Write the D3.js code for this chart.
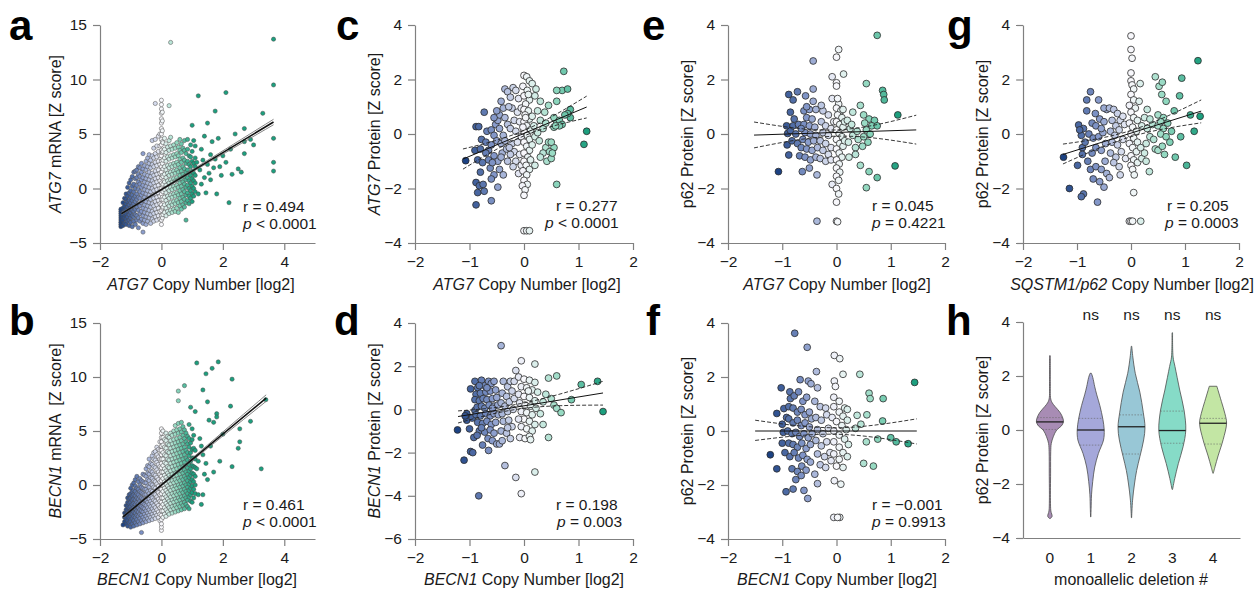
<!DOCTYPE html>
<html>
<head>
<meta charset="utf-8">
<script src="https://cdn.jsdelivr.net/npm/d3@7"></script>
<style>
  body { margin: 0; background: #fff; }
  text { font-family: "Liberation Sans", Arial, sans-serif; white-space: pre; }
</style>
</head>
<body>
<svg id="fig" width="1256" height="590"></svg>
<script>
// ---- data ----
// panel a: ATG7 mRNA vs ATG7 copy number, grouped by copy-number column [x, [y...]]
var atg7MrnaCols = [
  [-1.32, [-3.5,-3.3,-3.1,-2.9,-2.7,-2.5,-2.3,-2.1,-1.9]],
  [-1.25, [-3.4,-2.9,-2.6,-2.2,-1.8,-1.3]],
  [-1.2, [-3.2,-2.7,-2.4,-2.0,-1.6,-0.9]],
  [-1.15, [-3.3,-2.8,-2.3,-1.9,-1.4,-1.0,-0.5]],
  [-1.1, [-3.0,-2.6,-2.1,-1.7,-1.2,-0.7,0.1]],
  [-1.05, [-3.4,-2.9,-2.4,-2.0,-1.5,-1.1,-0.4,0.5]],
  [-1.0, [-3.1,-2.7,-2.2,-1.8,-1.3,-0.8,-0.2,0.8]],
  [-0.95, [-3.5,-2.5,-2.0,-1.6,-1.1,-0.6,0.2,1.1]],
  [-0.9, [-3.0,-2.6,-2.1,-1.4,-0.9,-0.3,0.4,1.5]],
  [-0.85, [-3.3,-2.4,-1.9,-1.2,-0.7,0.0,0.9,1.6]],
  [-0.8, [-2.9,-2.5,-1.7,-1.0,-0.5,0.3,1.0,1.7]],
  [-0.75, [-3.6,-2.7,-2.0,-1.4,-0.8,-0.1,0.6,1.3,2.0]],
  [-0.7, [-3.0,-2.3,-1.6,-0.9,-0.3,0.4,1.1,1.9]],
  [-0.65, [-2.8,-2.1,-1.3,-0.6,0.1,0.8,1.5,2.3]],
  [-0.6, [-4.0,-3.2,-2.5,-1.8,-1.1,-0.4,0.3,1.0,1.8,3.2]],
  [-0.55, [-2.9,-2.2,-1.5,-0.8,-0.1,0.6,1.3,2.1]],
  [-0.5, [-3.3,-2.6,-1.9,-1.2,-0.5,0.2,0.9,1.7,2.5]],
  [-0.45, [-3.0,-2.3,-1.6,-0.9,-0.2,0.5,1.2,2.0,2.8]],
  [-0.4, [-2.7,-2.0,-1.3,-0.6,0.1,0.8,1.5,2.3,3.1]],
  [-0.35, [-3.2,-2.4,-1.7,-1.0,-0.3,0.4,1.1,1.9,2.6]],
  [-0.3, [-2.8,-2.1,-1.4,-0.7,0.0,0.7,1.4,2.2,3.0,4.4]],
  [-0.25, [-3.0,-2.3,-1.6,-0.9,-0.2,0.5,1.2,2.0,2.8,3.7]],
  [-0.2, [-2.6,-1.9,-1.2,-0.5,0.2,0.9,1.6,2.4,3.2,4.5,7.8]],
  [-0.15, [-2.9,-2.2,-1.5,-0.8,-0.1,0.6,1.3,2.1,2.9,3.9]],
  [-0.1, [-2.5,-1.8,-1.1,-0.4,0.3,1.0,1.7,2.5,3.4,4.8]],
  [-0.05, [-2.8,-2.1,-1.4,-0.7,0.0,0.7,1.4,2.2,3.0,3.9,5.0]],
  [0.0, [-3.3,-2.9,-2.5,-2.0,-1.5,-1.0,-0.5,0.0,0.5,1.0,1.5,2.0,2.5,3.0,3.5,4.0,4.5,5.0,5.5,6.0,6.4,6.9,7.3,7.7,8.1]],
  [0.03, [-2.7,-1.8,-0.8,0.3,1.2,2.3,3.3,4.3,5.3,6.2,7.0]],
  [0.05, [-2.4,-1.7,-1.0,-0.3,0.4,1.1,1.8,2.6,3.4,4.2]],
  [0.1, [-2.2,-1.5,-0.8,-0.1,0.6,1.3,2.0,2.8,3.6,4.6]],
  [0.15, [-2.5,-1.8,-1.1,-0.4,0.3,1.0,1.7,2.5,3.3,4.1]],
  [0.2, [-2.1,-1.4,-0.7,0.0,0.7,1.4,2.1,2.9,3.8]],
  [0.25, [-2.3,-1.6,-0.9,-0.2,0.5,1.2,1.9,2.7,3.5,4.4,7.6]],
  [0.3, [-2.0,-1.3,-0.6,0.1,0.8,1.5,2.2,3.0,3.9,4.7,13.4]],
  [0.35, [-2.2,-1.5,-0.8,-0.1,0.6,1.3,2.0,2.8,3.6]],
  [0.4, [-1.9,-1.2,-0.5,0.2,0.9,1.6,2.3,3.1,4.0]],
  [0.45, [-2.1,-1.4,-0.7,0.0,0.7,1.4,2.1,2.9,3.7]],
  [0.5, [-1.8,-1.1,-0.4,0.3,1.0,1.7,2.4,3.2,4.2]],
  [0.55, [-2.2,-1.3,-0.6,0.1,0.8,1.5,2.2,3.0,3.8]],
  [0.6, [-1.6,-0.9,-0.2,0.5,1.2,1.9,2.7,3.5,4.5]],
  [0.65, [-1.9,-1.2,-0.5,0.2,0.9,1.6,2.4,3.3,4.1]],
  [0.7, [-1.5,-0.8,-0.1,0.6,1.3,2.0,2.8,3.7]],
  [0.75, [-1.7,-1.0,-0.3,0.4,1.1,1.8,2.6,3.5,4.4]],
  [0.8, [-2.9,-1.3,-0.6,0.1,0.8,1.5,2.3,3.2]],
  [0.85, [-1.1,-0.4,0.3,1.0,1.7,2.5,3.6,4.5]],
  [0.9, [-1.4,-0.7,0.0,0.7,1.4,2.2,3.0]],
  [0.95, [-0.9,-0.2,0.5,1.2,2.0,2.9,4.0]],
  [1.0, [-1.2,-0.5,0.2,0.9,1.6,2.5,3.4,5.8]],
  [1.05, [-0.7,0.0,0.7,1.4,2.3,4.4]],
  [1.1, [-0.3,0.5,1.2,2.0,2.8,3.9]]
];
var atg7MrnaSparse = [
  [1.2,8.5],[1.2,-0.5],[1.15,2.4],[1.25,1.7],[1.3,3.6],[1.3,0.4],[1.35,2.6],[1.4,1.0],[1.4,4.8],
  [1.45,-0.4],[1.5,6.0],[1.5,2.2],[1.55,1.4],[1.6,3.1],[1.6,0.8],[1.65,4.3],[1.7,1.9],[1.75,7.1],
  [1.75,2.7],[1.8,-0.5],[1.85,4.6],[1.9,2.0],[1.95,1.2],[2.0,3.0],[2.1,8.8],[2.1,2.4],[2.2,-1.3],
  [2.25,3.6],[2.3,1.3],[2.4,5.0],[2.5,1.8],[2.6,1.5],[2.7,5.5],[2.7,4.3],[2.7,3.2],[2.9,4.5],
  [3.0,4.0],[3.3,6.9],[3.65,13.7],[3.65,9.5],[3.65,4.6],[3.65,2.4],[3.65,1.6]
];

// panel b: BECN1 mRNA vs BECN1 copy number
var becn1MrnaCols = [
  [-1.2, [-3.4,-3.0,-2.6]],
  [-1.15, [-3.6,-3.1,-2.7,-2.3,-1.9]],
  [-1.1, [-3.8,-3.3,-2.8,-2.4,-2.0,-1.6,-1.2]],
  [-1.05, [-3.5,-3.0,-2.5,-2.1,-1.7,-1.3,-0.9]],
  [-1.0, [-3.9,-3.4,-2.9,-2.4,-2.0,-1.6,-1.2,-0.8,-0.3]],
  [-0.95, [-3.6,-3.1,-2.7,-2.2,-1.8,-1.4,-1.0,-0.6,0.0]],
  [-0.9, [-3.8,-3.3,-2.9,-2.5,-2.1,-1.7,-1.3,-0.9,-0.5,0.2]],
  [-0.85, [-3.5,-3.0,-2.6,-2.2,-1.8,-1.4,-1.0,-0.6,-0.1,0.5]],
  [-0.8, [-3.7,-3.2,-2.8,-2.4,-2.0,-1.6,-1.2,-0.8,-0.3,0.8]],
  [-0.75, [-3.4,-2.9,-2.5,-2.1,-1.7,-1.3,-0.9,-0.4,0.3]],
  [-0.7, [-3.6,-3.1,-2.7,-2.3,-1.9,-1.5,-1.1,-0.6,0.0,0.6]],
  [-0.65, [-4.4,-3.3,-2.8,-2.4,-2.0,-1.6,-1.2,-0.7,-0.2,0.4]],
  [-0.6, [-3.5,-3.0,-2.5,-2.1,-1.7,-1.3,-0.8,-0.3,0.3,1.0]],
  [-0.55, [-3.2,-2.7,-2.2,-1.8,-1.4,-0.9,-0.4,0.2,0.9]],
  [-0.5, [-3.4,-2.9,-2.4,-1.9,-1.4,-0.9,-0.4,0.2,0.8,1.5]],
  [-0.45, [-3.1,-2.6,-2.1,-1.6,-1.1,-0.6,-0.1,0.5,1.1,1.8]],
  [-0.4, [-3.3,-2.8,-2.3,-1.8,-1.3,-0.8,-0.2,0.4,1.0,1.7,2.4]],
  [-0.35, [-3.0,-2.5,-2.0,-1.5,-1.0,-0.5,0.1,0.7,1.3,2.0]],
  [-0.3, [-3.2,-2.7,-2.2,-1.7,-1.2,-0.6,0.0,0.6,1.2,1.9,2.7]],
  [-0.25, [-2.9,-2.4,-1.9,-1.4,-0.8,-0.2,0.4,1.0,1.7,2.4,3.0]],
  [-0.2, [-3.1,-2.6,-2.1,-1.5,-0.9,-0.3,0.3,0.9,1.6,2.3,3.1]],
  [-0.15, [-2.8,-2.3,-1.7,-1.1,-0.5,0.1,0.7,1.4,2.1,2.8,3.5]],
  [-0.1, [-3.0,-2.5,-1.9,-1.3,-0.7,-0.1,0.5,1.2,1.9,2.6,3.3]],
  [-0.05, [-3.3,-2.7,-2.1,-1.5,-0.9,-0.3,0.3,1.0,1.7,2.4,3.2,4.0]],
  [0.0, [-4.2,-3.9,-3.6,-3.2,-2.8,-2.4,-2.0,-1.6,-1.2,-0.8,-0.4,0.0,0.4,0.8,1.2,1.6,2.0,2.4,2.8,3.2,3.6,4.0,4.4,4.8,5.2]],
  [0.05, [-3.0,-2.4,-1.8,-1.2,-0.6,0.0,0.6,1.2,1.8,2.4,3.0,3.7,4.4,5.0]],
  [0.1, [-2.7,-2.1,-1.5,-0.9,-0.3,0.3,0.9,1.5,2.1,2.8,3.5,4.2]],
  [0.15, [-2.9,-2.3,-1.7,-1.1,-0.5,0.1,0.7,1.3,2.0,2.7,3.4,4.1,4.8]],
  [0.2, [-2.5,-1.9,-1.3,-0.7,-0.1,0.5,1.1,1.7,2.4,3.1,3.8,4.5]],
  [0.25, [-2.7,-2.1,-1.5,-0.9,-0.3,0.3,0.9,1.6,2.3,3.0,3.7,4.4]],
  [0.3, [-2.3,-1.7,-1.1,-0.5,0.1,0.7,1.3,2.0,2.7,3.4,4.1,4.8]],
  [0.35, [-2.6,-2.0,-1.4,-0.8,-0.2,0.4,1.0,1.7,2.4,3.1,3.8,4.6]],
  [0.4, [-2.2,-1.6,-1.0,-0.4,0.2,0.8,1.4,2.1,2.8,3.5,4.2,5.0]],
  [0.45, [-2.5,-1.9,-1.3,-0.7,-0.1,0.5,1.1,1.8,2.5,3.2,3.9,4.7,5.5]],
  [0.5, [-2.1,-1.5,-0.9,-0.3,0.3,0.9,1.5,2.2,2.9,3.6,4.3,5.1]],
  [0.55, [-2.4,-1.8,-1.2,-0.6,0.0,0.6,1.2,1.9,2.6,3.3,4.0,4.8,5.7,7.8,8.7]],
  [0.6, [-2.0,-1.4,-0.8,-0.2,0.4,1.0,1.6,2.3,3.0,3.7,4.4,5.2]],
  [0.65, [-2.3,-1.7,-1.1,-0.5,0.1,0.7,1.3,2.0,2.7,3.4,4.1,4.9,5.8]],
  [0.7, [-1.9,-1.3,-0.7,-0.1,0.5,1.1,1.7,2.4,3.1,3.8,4.6,5.4]],
  [0.75, [-2.2,-1.6,-1.0,-0.4,0.2,0.8,1.4,2.1,2.8,3.5,4.3,5.1,9.2]],
  [0.8, [-1.8,-1.2,-0.6,0.0,0.6,1.2,1.8,2.5,3.2,4.0,4.8]],
  [0.85, [-2.0,-1.4,-0.8,-0.2,0.4,1.0,1.6,2.3,3.0,3.8,4.5]],
  [0.9, [-2.2,-1.1,-0.5,0.1,0.7,1.3,1.9,2.7,3.5,4.3,5.6]],
  [0.95, [-1.5,-0.9,-0.3,0.3,0.9,1.5,2.2,3.0,3.9,7.2]],
  [1.0, [-1.6,-0.7,-0.1,0.5,1.1,1.8,2.5,3.3,4.2,5.2]],
  [1.05, [-1.2,-0.4,0.3,1.0,1.7,2.5,3.4,4.6]],
  [1.1, [-0.8,0.0,0.8,1.6,2.4,3.2,6.8]]
];
var becn1MrnaSparse = [
  [1.15,11.3],[1.15,1.5],[1.2,-0.9],[1.2,2.2],[1.25,4.3],[1.3,-1.8],[1.3,3.6],[1.35,-0.9],[1.35,2.8],
  [1.35,8.8],[1.4,1.0],[1.45,10.3],[1.45,2.0],[1.5,7.7],[1.5,0.5],[1.55,6.0],[1.6,3.6],[1.65,10.8],
  [1.7,1.2],[1.7,5.8],[1.8,6.6],[1.8,6.3],[1.85,11.4],[1.9,2.2],[2.0,4.7],[2.25,7.3],[2.3,9.8],
  [2.3,1.7],[2.5,3.4],[2.55,5.2],[2.55,4.0],[2.9,5.9],[3.25,1.5],[3.4,7.9],[-1.25,-3.7]
];

// panel c: ATG7 protein vs ATG7 copy number
var atg7Protein = [
  [-1.07,-0.98],[-0.88,0.27],[-0.83,0.27],[-0.73,0.8],[-0.85,-0.95],[-0.8,-1.4],[-0.88,-1.78],[-0.82,-1.9],
  [-0.75,-1.85],[-0.85,-2.15],[-0.73,-2.1],[-0.88,-2.6],[-0.78,-0.2],[-0.9,-0.6],[-0.8,-0.55],[-0.76,-1.05],
  [-0.6,-2.45],[-0.7,-0.3],[-0.65,-0.6],[-0.68,0.1],[-0.6,0.15],[-0.55,-0.05],[-0.52,0.35],[-0.48,0.5],
  [-0.45,0.7],[-0.5,0.85],[-0.55,0.6],[-0.45,0.2],[-0.5,-0.25],[-0.42,-0.35],[-0.6,-0.4],[-0.55,-0.8],
  [-0.48,-1.0],[-0.62,-1.25],[-0.45,-1.3],[-0.55,-1.5],[-0.38,-1.5],[-0.6,-1.65],[-0.48,-1.95],[-0.35,1.65],
  [-0.3,1.55],[-0.42,1.2],[-0.38,0.95],[-0.35,0.6],[-0.3,0.35],[-0.38,-0.05],[-0.4,-0.7],[-0.32,-0.55],
  [-0.3,-1.0],[-0.35,-0.25],[-0.65,-0.95],[-0.7,-0.7],[-0.58,-1.05],[-0.42,-0.85],
  [-0.2,1.7],[-0.15,1.6],[-0.25,1.35],[-0.1,1.3],[-0.22,0.95],[-0.12,0.8],[-0.18,0.5],[-0.08,0.45],
  [-0.25,0.2],[-0.15,0.1],[-0.05,-0.1],[-0.22,-0.35],[-0.12,-0.3],[-0.18,-0.65],[-0.08,-0.75],[-0.25,-0.75],
  [-0.15,-1.0],[-0.05,-1.15],[-0.2,-1.2],[-0.1,-1.45],[-0.28,1.0],[-0.05,0.95],[-0.27,-0.5],
  [0.0,2.15],[0.05,2.1],[0.1,1.95],[-0.02,1.75],[0.06,1.6],[0.0,1.4],[0.1,1.25],[0.03,1.1],[0.0,0.9],
  [0.08,0.85],[0.02,0.7],[0.1,0.55],[0.0,0.45],[0.05,0.3],[0.12,0.15],[0.0,0.1],[0.06,-0.05],[0.1,-0.2],
  [0.0,-0.3],[0.05,-0.45],[0.1,-0.6],[0.0,-0.7],[0.07,-0.85],[0.0,-1.0],[0.04,-1.15],[0.1,-1.3],[-0.02,-1.35],
  [0.05,-1.5],[0.0,-1.7],[0.06,-1.85],[-0.03,-1.9],[0.02,-2.05],[0.0,-2.25],[0.0,-3.55],[0.05,-3.55],[0.1,-3.55],
  [0.03,0.6],[0.08,1.45],[-0.02,0.25],[0.12,-0.95],
  [0.15,1.85],[0.22,1.65],[0.2,1.4],[0.3,1.2],[0.25,0.85],[0.15,0.65],[0.3,0.5],[0.18,0.3],[0.35,0.2],
  [0.2,-0.1],[0.28,-0.25],[0.15,-0.4],[0.4,-0.5],[0.35,-0.7],[0.45,-0.3],[0.42,-1.0],[0.2,-1.15],[0.3,-0.85],
  [0.45,1.05],[0.38,0.8],[0.25,0.05],[0.4,0.4],
  [0.73,2.3],[0.7,1.6],[0.8,1.65],[0.6,1.6],[0.6,1.2],[0.55,0.6],[0.6,0.4],[0.65,0.5],[0.55,0.25],[0.7,0.35],
  [0.85,0.9],[0.85,0.6],[0.8,0.75],[0.6,-1.85],[0.55,-0.5],[0.5,-0.3],[0.65,0.3],[0.5,-0.9],[0.47,-0.65],
  [0.52,-0.7],[0.58,0.3],[0.75,0.7],[1.15,0.1],[1.1,-0.38]
];

// panel d: BECN1 protein vs BECN1 copy number
var becn1Protein = [
  [-1.22,-0.95],[-1.1,-2.35],[-0.98,-1.95],[-0.94,-2.0],[-0.83,-4.0],[-1.05,-0.2],[-1.05,-0.5],[-0.98,0.95],
  [-1.0,-0.9],[-0.95,-0.4],[-0.9,-0.05],[-0.92,-1.3],[-1.08,-0.3],
  [-0.9,1.3],[-0.85,1.0],[-0.78,1.35],[-0.72,1.1],[-0.65,1.3],[-0.6,1.2],[-0.55,1.3],[-0.88,0.7],[-0.8,0.75],
  [-0.7,0.8],[-0.62,0.85],[-0.52,0.9],[-0.9,0.45],[-0.82,0.4],[-0.75,0.5],[-0.68,0.45],[-0.58,0.5],[-0.5,0.55],
  [-0.86,0.1],[-0.78,0.15],[-0.72,0.05],[-0.64,0.2],[-0.55,0.15],[-0.48,0.2],[-0.88,-0.25],[-0.8,-0.3],
  [-0.7,-0.2],[-0.62,-0.3],[-0.55,-0.2],[-0.47,-0.25],[-0.85,-0.6],[-0.76,-0.65],[-0.68,-0.55],[-0.6,-0.7],
  [-0.52,-0.6],[-0.82,-1.0],[-0.72,-1.05],[-0.62,-0.95],[-0.55,-1.1],[-0.86,-1.2],[-0.66,-1.35],[-0.58,-1.45],
  [-0.76,-1.65],[-0.65,-1.9],[-0.5,-1.6],[-0.45,-1.6],[-0.82,1.1],[-0.68,1.0],[-0.58,0.05],[-0.78,-0.85],
  [-0.42,2.95],[-0.38,1.3],[-0.3,1.05],[-0.25,1.3],[-0.4,0.75],[-0.32,0.6],[-0.22,0.85],[-0.42,0.3],
  [-0.35,0.15],[-0.27,0.35],[-0.18,0.5],[-0.4,-0.2],[-0.3,-0.1],[-0.2,0.0],[-0.38,-0.55],[-0.28,-0.5],
  [-0.22,-0.8],[-0.42,-1.0],[-0.32,-1.1],[-0.25,-1.35],[-0.4,-1.45],[-0.35,-2.6],[-0.15,1.8],[-0.18,1.3],[-0.3,-0.85],
  [-0.05,2.25],[0.2,2.1],[-0.1,1.5],[0.0,1.4],[0.1,1.35],[0.2,1.25],[-0.05,1.05],[0.05,1.0],[0.15,0.9],
  [0.25,0.8],[-0.1,0.7],[0.0,0.6],[0.1,0.55],[0.2,0.4],[-0.08,0.3],[0.02,0.2],[0.12,0.15],[0.22,0.05],
  [-0.05,-0.1],[0.05,-0.15],[0.15,-0.25],[0.0,-0.45],[0.1,-0.55],[0.2,-0.7],[-0.05,-0.8],[0.05,-0.9],
  [0.15,-1.0],[-0.08,-1.3],[0.02,-1.35],[0.1,-1.25],[0.12,-1.4],[-0.15,-3.15],[-0.05,-3.9],[0.2,-2.9],
  [0.08,0.85],[-0.1,-0.45],
  [0.45,1.45],[0.6,1.55],[0.4,0.7],[0.35,-0.7],[0.55,0.2],[0.6,0.05],[0.68,-0.15],[0.45,-1.3],[0.3,-0.2],
  [0.5,0.5],[0.35,0.35],[1.05,1.15],[1.35,1.3],[0.87,0.45],[1.45,-0.1]
];

// panel e: p62 protein vs ATG7 copy number
var p62VsAtg7 = [
  [-1.07,-1.38],[-0.88,-0.77],[-0.91,-0.4],[-0.9,0.02],[-0.85,0.13],[-0.92,0.3],[-0.88,1.45],[-0.72,1.55],
  [-0.8,1.25],[-0.85,0.8],[-0.8,0.3],[-0.75,0.0],[-0.7,0.35],[-0.82,-0.25],[-0.72,-0.35],[-0.65,-0.5],
  [-0.68,-0.8],[-0.78,0.55],
  [-0.43,2.68],[-0.43,1.65],[-0.57,1.4],[-0.43,1.2],[-0.63,-1.38],[-0.5,-1.25],[-0.36,-1.5],[-0.36,-3.2],
  [-0.6,0.85],[-0.5,0.9],[-0.38,0.9],[-0.55,0.6],[-0.45,0.55],[-0.6,0.35],[-0.5,0.3],[-0.4,0.25],[-0.58,0.05],
  [-0.48,0.0],[-0.38,-0.05],[-0.62,-0.2],[-0.52,-0.3],[-0.42,-0.25],[-0.55,-0.55],[-0.45,-0.6],[-0.35,-0.5],
  [-0.58,-0.85],[-0.48,-0.95],[-0.38,-0.85],[-0.55,1.0],[-0.65,0.2],
  [-0.08,2.1],[-0.08,1.3],[-0.25,0.85],[-0.15,0.7],[-0.28,0.45],[-0.2,0.3],[-0.1,0.2],[-0.25,0.05],
  [-0.15,-0.05],[-0.3,-0.25],[-0.2,-0.35],[-0.1,-0.5],[-0.25,-0.6],[-0.15,-0.75],[-0.3,-0.9],[-0.2,-1.0],
  [-0.08,-1.85],[-0.1,-0.95],[-0.05,0.45],[-0.28,1.05],
  [0.04,3.1],[0.0,2.82],[0.13,2.2],[0.0,1.88],[0.0,1.76],[0.04,1.1],[0.0,0.95],[0.08,0.85],[0.02,0.7],
  [0.1,0.6],[0.0,0.45],[0.06,0.35],[0.12,0.25],[0.0,0.15],[0.05,0.0],[0.1,-0.1],[0.0,-0.2],[0.06,-0.35],
  [0.12,-0.45],[0.0,-0.55],[0.05,-0.7],[0.1,-0.85],[0.0,-0.95],[0.05,-1.1],[0.0,-1.25],[0.06,-1.4],
  [0.0,-1.55],[0.04,-1.7],[0.0,-2.0],[0.04,-2.2],[0.0,-2.5],[0.0,-3.2],[0.02,-3.22],[0.15,0.45],[0.12,0.9],
  [0.15,-0.25],[0.02,1.3],
  [0.23,-0.85],[0.2,0.5],[0.25,0.2],[0.3,-0.05],[0.22,-0.3],[0.35,-0.5],[0.3,0.8],[0.28,0.35],[0.4,-0.2],
  [0.38,0.1],[0.44,-1.15],[0.35,-0.75],
  [0.75,3.62],[0.55,1.85],[0.85,1.6],[0.87,1.45],[0.88,1.25],[0.44,1.05],[0.5,0.7],[0.6,0.55],[0.7,0.5],
  [0.52,0.4],[0.65,0.3],[0.75,0.3],[0.55,0.15],[0.62,0.0],[0.5,-0.1],[0.58,-0.3],[0.55,-1.97],[0.75,-1.6],
  [0.6,-1.38],[0.48,-0.45],[1.08,-1.17],[1.13,0.7]
];

// panel f: p62 protein vs BECN1 copy number
var p62VsBecn1 = [
  [-1.22,-0.88],[-1.1,-1.4],[-1.1,0.65],[-1.02,1.6],[-0.97,0.83],[-0.93,-2.25],[-1.0,0.25],[-0.98,-0.05],
  [-1.0,-0.45],[-0.95,-0.8],[-0.92,0.5],
  [-0.77,3.62],[-0.54,3.1],[-0.67,1.9],[-0.52,1.85],[-0.47,1.75],[-0.86,1.45],[-0.8,-2.15],[-0.6,-2.2],
  [-0.53,-2.5],[-0.85,1.2],[-0.78,1.3],[-0.7,1.45],[-0.62,1.1],[-0.55,1.25],[-0.88,0.9],[-0.8,0.85],
  [-0.72,0.7],[-0.65,0.8],[-0.58,0.6],[-0.5,0.7],[-0.88,0.45],[-0.8,0.3],[-0.72,0.4],[-0.65,0.2],[-0.58,0.3],
  [-0.5,0.15],[-0.9,0.0],[-0.82,-0.1],[-0.75,-0.05],[-0.68,-0.2],[-0.6,-0.1],[-0.52,-0.25],[-0.88,-0.45],
  [-0.8,-0.5],[-0.72,-0.6],[-0.64,-0.45],[-0.56,-0.65],[-0.48,-0.5],[-0.86,-0.95],[-0.78,-0.8],[-0.7,-1.0],
  [-0.62,-0.9],[-0.54,-1.05],[-0.82,-1.4],[-0.72,-1.5],[-0.64,-1.3],[-0.56,-1.45],[-0.75,-1.8],[-0.65,-1.65],
  [-0.48,-1.15],[-0.45,-0.1],[-0.46,0.45],
  [-0.37,2.2],[-0.35,1.6],[-0.4,1.1],[-0.3,0.9],[-0.2,0.85],[-0.38,0.5],[-0.28,0.4],[-0.18,0.6],[-0.35,0.05],
  [-0.25,-0.1],[-0.15,0.1],[-0.38,-0.35],[-0.28,-0.55],[-0.18,-0.4],[-0.35,-0.85],[-0.22,-0.95],[-0.12,-0.8],
  [-0.3,-1.25],[-0.4,-1.6],[-0.2,-1.35],[-0.1,-1.1],[-0.35,-1.95],
  [-0.04,2.8],[0.06,2.68],[0.12,2.1],[-0.04,1.85],[-0.02,1.65],[-0.05,1.25],[0.05,1.1],[0.15,0.85],
  [-0.05,0.9],[0.05,0.7],[0.12,0.55],[0.2,0.4],[-0.08,0.5],[0.0,0.35],[0.1,0.2],[0.18,0.05],[-0.05,0.0],
  [0.05,-0.15],[0.15,-0.3],[0.22,-0.5],[-0.05,-0.4],[0.05,-0.6],[0.12,-0.8],[0.2,-0.95],[-0.05,-0.85],
  [0.05,-1.05],[0.12,-1.35],[-0.04,-1.84],[0.08,-1.97],[-0.05,-3.2],[0.06,-3.2],[0.02,-3.2],[0.2,0.8],[0.0,-1.3],
  [0.43,2.1],[0.6,1.4],[0.62,1.2],[0.86,1.2],[0.38,0.58],[0.56,0.6],[0.85,0.37],[0.5,-1.2],[0.68,-1.3],
  [0.55,-0.4],[0.76,-0.3],[0.45,0.25],[0.35,0.1],[1.44,1.8],[1.0,-0.25],[1.1,-0.4],[1.32,-0.47]
];

// panel g: p62 protein vs SQSTM1/p62 copy number
var p62VsSqstm1 = [
  [-1.25,-0.85],[-1.14,-2.0],[-0.99,-1.15],[-0.97,0.33],[-0.88,0.2],[-0.82,0.85],[-0.88,-2.2],[-0.92,-2.3],
  [-0.92,-0.05],[-0.9,-0.5],[-0.85,-0.3],[-0.9,-0.75],[-0.95,0.15],
  [-0.75,1.55],[-0.82,1.25],[-0.6,1.25],[-0.62,-2.5],[-0.5,-1.95],[-0.72,0.4],[-0.65,0.3],[-0.58,0.55],
  [-0.5,0.45],[-0.78,0.0],[-0.7,-0.15],[-0.6,-0.1],[-0.52,0.05],[-0.8,-1.0],[-0.72,-0.7],[-0.65,-0.5],
  [-0.55,-0.6],[-0.75,-1.3],[-0.65,-1.2],[-0.55,-1.3],[-0.7,-1.65],[-0.58,-1.75],[-0.47,-0.35],[-0.45,0.9],
  [-0.5,0.95],[-0.48,-1.0],[-0.66,0.75],[-0.45,-1.45],[-0.55,0.2],
  [-0.4,0.95],[-0.32,0.9],[-0.25,0.75],[-0.35,0.5],[-0.28,0.3],[-0.2,0.5],[-0.38,0.1],[-0.3,-0.05],
  [-0.22,0.15],[-0.12,0.35],[-0.35,-0.3],[-0.25,-0.4],[-0.15,-0.2],[-0.38,-0.7],[-0.28,-0.85],[-0.18,-0.65],
  [-0.32,-1.05],[-0.22,-1.2],[-0.4,-1.6],[-0.1,-0.9],[-0.2,-1.5],[-0.15,0.65],
  [0.0,3.6],[0.0,3.1],[0.02,2.78],[0.0,2.24],[0.0,1.95],[0.02,1.8],[0.05,1.65],[0.17,1.85],[0.0,1.45],
  [0.05,1.25],[-0.03,1.05],[0.08,0.95],[0.0,0.8],[0.05,0.6],[0.12,0.5],[-0.03,0.4],[0.03,0.25],[0.1,0.1],
  [0.0,0.0],[0.05,-0.15],[0.12,-0.3],[-0.03,-0.35],[0.03,-0.5],[0.1,-0.65],[0.0,-0.8],[0.05,-0.95],
  [0.12,-1.05],[0.0,-1.15],[0.03,-1.3],[0.06,-1.5],[0.05,-2.15],[-0.03,-3.2],[0.0,-3.2],[0.03,-3.2],[0.18,-3.2],
  [0.2,0.3],[0.18,-0.5],[0.15,1.2],[0.2,-0.9],
  [0.25,0.6],[0.3,0.2],[0.35,-0.1],[0.28,-0.35],[0.4,0.35],[0.35,0.55],[0.25,-0.7],[0.34,-1.38],[0.42,-0.2],
  [0.3,0.9],[0.45,-0.55],[0.28,-1.0],
  [1.24,2.69],[0.45,2.1],[0.52,1.75],[0.58,1.9],[0.94,2.05],[0.9,1.4],[0.57,1.45],[0.65,1.2],[1.1,0.7],
  [0.82,-0.85],[0.5,0.7],[0.6,0.6],[0.5,0.3],[0.6,0.2],[0.68,0.4],[0.55,0.0],[0.65,-0.1],[0.72,-0.3],
  [0.5,-0.6],[0.62,-0.75],[0.8,0.85],[0.75,0.1],[0.92,-0.1],[0.58,-0.45],[0.55,0.45],
  [1.28,0.65],[1.17,0.1],[1.03,-1.15]
];

// regression lines and 95% bands, [x, y] in data units
var fitA = [[-1.3,-2.3],[3.65,6.1]], upA = [[-1.3,-2.2],[0,-0.03],[3.65,6.35]], loA = [[-1.3,-2.4],[0,-0.15],[3.65,5.85]];
var fitB = [[-1.25,-2.96],[3.41,8.05]], upB = [[-1.25,-2.85],[0,0.06],[3.41,8.35]], loB = [[-1.25,-3.07],[0,-0.06],[3.41,7.75]];
var fitC = [[-1.12,-0.92],[1.15,0.99]], upC = [[-1.12,-0.55],[0,0.13],[1.15,1.39]], loC = [[-1.12,-1.29],[0,-0.07],[1.15,0.59]];
var fitD = [[-1.21,-0.33],[1.45,0.76]], upD = [[-1.21,-0.07],[0,0.3],[1.45,1.3]], loD = [[-1.21,-0.63],[0,0.05],[1.45,0.2]];
var fitE = [[-1.52,-0.04],[1.47,0.15]], upE = [[-1.52,0.44],[0,0.15],[1.47,0.69]], loE = [[-1.52,-0.51],[0,-0.08],[1.47,-0.37]];
var fitF = [[-1.5,0.0],[1.48,0.0]], upF = [[-1.5,0.4],[0,0.12],[1.48,0.45]], loF = [[-1.5,-0.35],[0,-0.12],[1.48,-0.48]];
var fitG = [[-1.26,-0.75],[1.3,0.84]], upG = [[-1.26,-0.37],[0,0.13],[1.3,1.25]], loG = [[-1.26,-1.1],[0,-0.1],[1.3,0.41]];

// panel h: violin outlines as [value, relative half-width]
var deletionGroups = [0, 1, 2, 3, 4];
var violinProfiles = [
  [[2.75,0.03],[1.8,0.03],[1.15,0.06],[1.0,0.18],[0.87,0.38],[0.65,0.75],[0.45,0.95],[0.3,1.0],[0.15,0.85],[0.0,0.5],[-0.25,0.25],[-0.5,0.1],[-0.8,0.06],[-1.6,0.05],[-2.6,0.04],[-3.0,0.07],[-3.2,0.16],[-3.28,0.02]],
  [[2.1,0.05],[1.95,0.15],[1.6,0.3],[1.3,0.45],[0.9,0.68],[0.4,0.9],[0.0,1.0],[-0.37,0.95],[-0.87,0.57],[-1.37,0.3],[-1.9,0.15],[-2.4,0.06],[-2.9,0.03],[-3.22,0.01]],
  [[3.1,0.02],[2.7,0.1],[2.1,0.28],[1.4,0.62],[0.66,0.87],[0.1,1.0],[-0.37,0.9],[-0.99,0.62],[-1.5,0.38],[-2.0,0.22],[-2.6,0.08],[-3.25,0.01]],
  [[3.6,0.02],[2.7,0.06],[2.35,0.2],[1.48,0.55],[0.74,0.87],[0.0,1.0],[-0.62,0.8],[-1.24,0.45],[-1.8,0.18],[-2.2,0.02]],
  [[1.62,0.28],[1.45,0.38],[1.05,0.62],[0.6,0.88],[0.25,1.0],[-0.35,0.75],[-0.96,0.37],[-1.35,0.15],[-1.6,0.02]]
];
var violinMedian = [0.3, 0.0, 0.12, -0.02, 0.25];
var violinQ1 = [0.02, -0.56, -0.89, -0.49, -0.52];
var violinQ3 = [0.46, 0.43, 0.56, 0.7, 0.43];
var violinColors = ["#a88cb4", "#a5a8da", "#98c7d6", "#86dbc7", "#c3e6a4"];
var nsLabels = ["", "ns", "ns", "ns", "ns"];

// ---- drawing ----
var svg = d3.select("#fig");
var palette = ["#1c4283", "#8397c9", "#f8f8fc", "#90d8bf", "#1c9f7e"];
var axisGrey = "#808080";
var intFormat = d3.format("d");

function expand(cols, sparse) {
  return cols.flatMap(function(c) { return c[1].map(function(v) { return [c[0], v]; }); }).concat(sparse);
}

function rich(sel, parts) {
  parts.forEach(function(p) {
    sel.append("tspan").text(p[0]).attr("font-style", p[1] ? "italic" : null);
  });
}

function styleAxis(g) {
  g.select(".domain").attr("stroke", axisGrey).attr("stroke-width", 1.2);
  g.selectAll(".tick line").attr("stroke", axisGrey).attr("stroke-width", 1.2);
  g.selectAll(".tick text").attr("fill", "#1a1a1a").style("font-size", "15.5px")
    .style("font-family", "'Liberation Sans', Arial, sans-serif");
}

function letter(t, x, y) {
  svg.append("text").attr("x", x).attr("y", y).text(t)
    .style("font-size", "42px").style("font-weight", "bold").attr("fill", "#000");
}

function yLabel(parts, x, y) {
  var t = svg.append("text").attr("transform", "translate(" + x + "," + y + ") rotate(-90)")
    .attr("text-anchor", "middle").style("font-size", "16px").attr("fill", "#1a1a1a");
  rich(t, parts);
}

function xLabel(parts, x, y) {
  var t = svg.append("text").attr("x", x).attr("y", y)
    .attr("text-anchor", "middle").style("font-size", "16px").attr("fill", "#1a1a1a");
  rich(t, parts);
}

function scatter(cfg) {
  var x = d3.scaleLinear().domain(cfg.xDomain).range(cfg.xRange);
  var y = d3.scaleLinear().domain(cfg.yDomain).range(cfg.yRange);
  var color = d3.scaleLinear().domain(cfg.colorDomain).range(palette).clamp(true);
  var g = svg.append("g");

  g.append("g").attr("transform", "translate(0," + cfg.yRange[0] + ")")
    .call(d3.axisBottom(x).tickValues(cfg.xTicks).tickFormat(intFormat).tickSize(7).tickPadding(6).tickSizeOuter(0))
    .call(styleAxis);
  g.append("g").attr("transform", "translate(" + cfg.xRange[0] + ",0)")
    .call(d3.axisLeft(y).tickValues(cfg.yTicks).tickFormat(intFormat).tickSize(7).tickPadding(6).tickSizeOuter(0))
    .call(styleAxis);

  g.append("g").selectAll("circle")
    .data(cfg.points)
    .join("circle")
      .attr("cx", function(d) { return x(d[0]); })
      .attr("cy", function(d) { return y(d[1]); })
      .attr("r", cfg.r)
      .attr("fill", function(d) { return color(d[0]); })
      .attr("stroke", cfg.stroke)
      .attr("stroke-width", cfg.strokeWidth);

  var line = d3.line().x(function(d) { return x(d[0]); }).y(function(d) { return y(d[1]); }).curve(d3.curveNatural);
  [cfg.up, cfg.lo].forEach(function(b) {
    g.append("path").attr("d", line(b)).attr("fill", "none")
      .attr("stroke", cfg.bandColor).attr("stroke-width", 0.9)
      .attr("stroke-dasharray", cfg.dash);
  });
  g.append("path").attr("d", line(cfg.fit)).attr("fill", "none")
    .attr("stroke", "#111").attr("stroke-width", cfg.fitWidth);

  var r = g.append("text").attr("x", cfg.stats[0][0]).attr("y", cfg.stats[0][1])
    .style("font-size", "15.5px").attr("fill", "#1a1a1a");
  rich(r, [[cfg.r_text, false]]);
  var p = g.append("text").attr("x", cfg.stats[1][0]).attr("y", cfg.stats[1][1])
    .style("font-size", "15.5px").attr("fill", "#1a1a1a");
  rich(p, [["p", true], [cfg.p_text, false]]);
}

// panel a
scatter({
  xDomain: [-2, 5], xRange: [100, 315], yDomain: [-5, 15], yRange: [243, 25],
  xTicks: [-2, 0, 2, 4], yTicks: [-5, 0, 5, 10, 15],
  points: expand(atg7MrnaCols, atg7MrnaSparse), r: 2.1, stroke: "#4a4a4a", strokeWidth: 0.5,
  colorDomain: [-1.3, -0.65, 0, 0.5, 1.0],
  fit: fitA, up: upA, lo: loA, bandColor: "#777", dash: null, fitWidth: 1.6,
  r_text: "r = 0.494", p_text: " < 0.0001", stats: [[243, 212], [243, 229]]
});
letter("a", 9, 40);
yLabel([["ATG7", true], [" mRNA [Z score]", false]], 61, 134);
xLabel([["ATG7", true], [" Copy Number [log2]", false]], 201, 290);

// panel b
scatter({
  xDomain: [-2, 5], xRange: [100, 315], yDomain: [-5, 15], yRange: [539, 323],
  xTicks: [-2, 0, 2, 4], yTicks: [-5, 0, 5, 10, 15],
  points: expand(becn1MrnaCols, becn1MrnaSparse), r: 2.1, stroke: "#4a4a4a", strokeWidth: 0.5,
  colorDomain: [-1.25, -0.6, 0, 0.5, 1.0],
  fit: fitB, up: upB, lo: loB, bandColor: "#777", dash: null, fitWidth: 1.6,
  r_text: "r = 0.461", p_text: " < 0.0001", stats: [[243, 510], [243, 527]]
});
letter("b", 9, 335);
yLabel([["BECN1", true], [" mRNA  [Z score]", false]], 61, 431);
xLabel([["BECN1", true], [" Copy Number [log2]", false]], 197, 585);

// panel c
scatter({
  xDomain: [-2, 2], xRange: [415, 633], yDomain: [-4, 4], yRange: [243, 25],
  xTicks: [-2, -1, 0, 1, 2], yTicks: [-4, -2, 0, 2, 4],
  points: atg7Protein, r: 3.4, stroke: "#2b2b2b", strokeWidth: 0.8,
  colorDomain: [-1.07, -0.55, 0, 0.57, 1.15],
  fit: fitC, up: upC, lo: loC, bandColor: "#222", dash: "4,2", fitWidth: 1,
  r_text: "r = 0.277", p_text: " < 0.0001", stats: [[556, 211], [545, 228]]
});
letter("c", 336, 40);
yLabel([["ATG7", true], [" Protein [Z score]", false]], 380, 134);
xLabel([["ATG7", true], [" Copy Number [log2]", false]], 527, 290);

// panel d
scatter({
  xDomain: [-2, 2], xRange: [415, 633], yDomain: [-6, 4], yRange: [539, 323],
  xTicks: [-2, -1, 0, 1, 2], yTicks: [-6, -4, -2, 0, 2, 4],
  points: becn1Protein, r: 3.4, stroke: "#2b2b2b", strokeWidth: 0.8,
  colorDomain: [-1.22, -0.6, 0, 0.72, 1.45],
  fit: fitD, up: upD, lo: loD, bandColor: "#222", dash: "4,2", fitWidth: 1,
  r_text: "r = 0.198", p_text: " = 0.003", stats: [[556, 510], [557, 527]]
});
letter("d", 334, 335);
yLabel([["BECN1", true], [" Protein [Z score]", false]], 380, 431);
xLabel([["BECN1", true], [" Copy Number [log2]", false]], 524, 585);

// panel e
scatter({
  xDomain: [-2, 2], xRange: [728, 945], yDomain: [-4, 4], yRange: [243, 25],
  xTicks: [-2, -1, 0, 1, 2], yTicks: [-4, -2, 0, 2, 4],
  points: p62VsAtg7, r: 3.4, stroke: "#2b2b2b", strokeWidth: 0.8,
  colorDomain: [-1.07, -0.55, 0, 0.57, 1.13],
  fit: fitE, up: upE, lo: loE, bandColor: "#222", dash: "4,2", fitWidth: 1,
  r_text: "r = 0.045", p_text: " = 0.4221", stats: [[872, 211], [872, 228]]
});
letter("e", 642, 40);
yLabel([["p62 Protein [Z score]", false]], 693, 134);
xLabel([["ATG7", true], [" Copy Number [log2]", false]], 837, 290);

// panel f
scatter({
  xDomain: [-2, 2], xRange: [728, 945], yDomain: [-4, 4], yRange: [539, 323],
  xTicks: [-2, -1, 0, 1, 2], yTicks: [-4, -2, 0, 2, 4],
  points: p62VsBecn1, r: 3.4, stroke: "#2b2b2b", strokeWidth: 0.8,
  colorDomain: [-1.22, -0.6, 0, 0.72, 1.44],
  fit: fitF, up: upF, lo: loF, bandColor: "#222", dash: "4,2", fitWidth: 1,
  r_text: "r = \u22120.001", p_text: " = 0.9913", stats: [[872, 510], [872, 527]]
});
letter("f", 646, 335);
yLabel([["p62 Protein [Z score]", false]], 693, 431);
xLabel([["BECN1", true], [" Copy Number [log2]", false]], 837, 585);

// panel g
scatter({
  xDomain: [-2, 2], xRange: [1023, 1239], yDomain: [-4, 4], yRange: [243, 25],
  xTicks: [-2, -1, 0, 1, 2], yTicks: [-4, -2, 0, 2, 4],
  points: p62VsSqstm1, r: 3.4, stroke: "#2b2b2b", strokeWidth: 0.8,
  colorDomain: [-1.25, -0.62, 0, 0.64, 1.28],
  fit: fitG, up: upG, lo: loG, bandColor: "#222", dash: "4,2", fitWidth: 1,
  r_text: "r = 0.205", p_text: " = 0.0003", stats: [[1167, 211], [1165, 228]]
});
letter("g", 947, 40);
yLabel([["p62 Protein [Z score]", false]], 988, 134);
xLabel([["SQSTM1/p62", true], [" Copy Number [log2]", false]], 1132, 290);

// panel h: violins
(function() {
  var x = d3.scaleBand().domain(deletionGroups).range([1023, 1240]).paddingInner(0).paddingOuter(0.16);
  var y = d3.scaleLinear().domain([-4, 4]).range([538, 322]);
  var w = d3.scaleLinear().domain([0, 1]).range([0, 13.5]);
  var g = svg.append("g");

  g.append("g").attr("transform", "translate(0,538)")
    .call(d3.axisBottom(x).tickSize(0).tickPadding(14).tickSizeOuter(0))
    .call(styleAxis);
  g.append("g").attr("transform", "translate(1023,0)")
    .call(d3.axisLeft(y).tickValues([-4, -2, 0, 2, 4]).tickFormat(intFormat).tickSize(7).tickPadding(6).tickSizeOuter(0))
    .call(styleAxis);

  function widthAt(prof, v) {
    for (var i = 0; i < prof.length - 1; i++) {
      var a = prof[i], b = prof[i + 1];
      if (v <= a[0] && v >= b[0]) {
        var t = (a[0] - v) / (a[0] - b[0] || 1);
        return a[1] + t * (b[1] - a[1]);
      }
    }
    return 0;
  }

  deletionGroups.forEach(function(grp, i) {
    var cx = x(grp) + x.bandwidth() / 2;
    var prof = violinProfiles[i];
    var area = d3.area()
      .y(function(d) { return y(d[0]); })
      .x0(function(d) { return cx - w(d[1]); })
      .x1(function(d) { return cx + w(d[1]); })
      .curve(d3.curveCatmullRom);
    g.append("path").attr("d", area(prof))
      .attr("fill", violinColors[i]).attr("stroke", "#4d4d4d").attr("stroke-width", 0.8);

    [violinQ1[i], violinQ3[i]].forEach(function(q) {
      var hw = w(widthAt(prof, q));
      g.append("line").attr("x1", cx - hw).attr("x2", cx + hw).attr("y1", y(q)).attr("y2", y(q))
        .attr("stroke", "#666").attr("stroke-width", 0.6).attr("stroke-dasharray", "1.5,1.5");
    });
    var mw = w(widthAt(prof, violinMedian[i]));
    g.append("line").attr("x1", cx - mw).attr("x2", cx + mw)
      .attr("y1", y(violinMedian[i])).attr("y2", y(violinMedian[i]))
      .attr("stroke", "#222").attr("stroke-width", 1.3);

    if (nsLabels[i]) {
      g.append("text").attr("x", cx).attr("y", 320).attr("text-anchor", "middle")
        .style("font-size", "15.5px").attr("fill", "#1a1a1a").text(nsLabels[i]);
    }
  });
})();
letter("h", 946, 335);
yLabel([["p62 Protein [Z score]", false]], 988, 430);
xLabel([["monoallelic deletion #", false]], 1131, 585);
</script>
</body>
</html>
